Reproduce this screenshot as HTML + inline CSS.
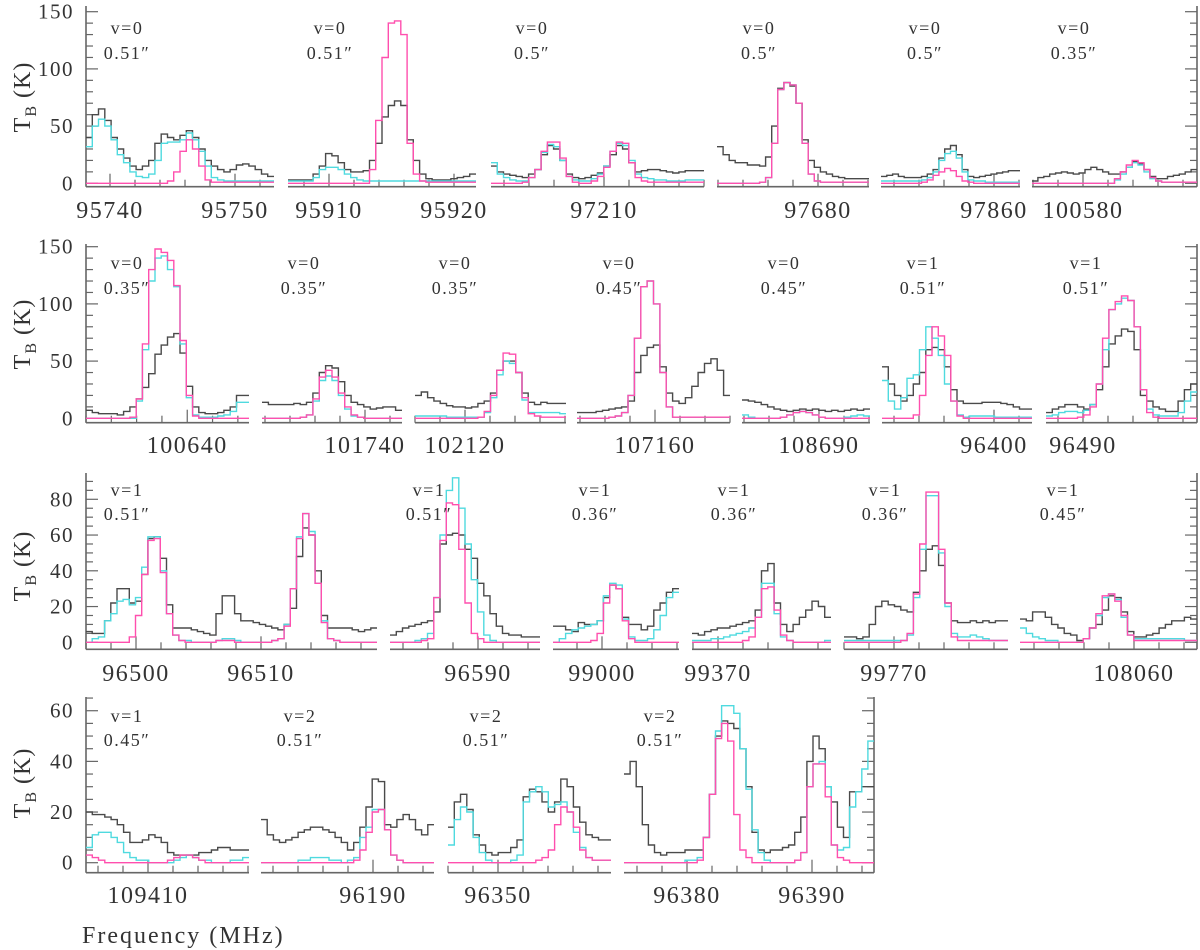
<!DOCTYPE html>
<html><head><meta charset="utf-8"><title>Spectra panels</title>
<style>
html,body{margin:0;padding:0;background:#fff;}
svg{display:block;}
text{font-family:"Liberation Serif","DejaVu Serif",serif;fill:#333;}
</style></head>
<body>
<svg id="chart" width="1200" height="950" viewBox="0 0 1200 950" xmlns="http://www.w3.org/2000/svg"></svg>
<script>
// ---- data: brightness temperatures (K) per channel ----
const r1p1Black=[40,60,65,55,40,30,22,15,12,15,20,35,43,40,38,42,46,40,30,20,15,12,10,12,16,17,15,12,8,6];
const r1p1Cyan=[32,50,56,50,38,25,18,10,6,5,8,20,35,36,36,38,44,38,28,15,5,3,2,2,2,2,2,2,2,2];
const r1p1Mag=[0,0,0,0,0,0,0,0,0,0,0,0,0,2,10,28,38,30,15,3,1,1,1,1,1,1,1,1,1,1];
const r1p2Black=[3,3,3,3,8,15,26,24,18,12,10,10,11,20,35,58,68,72,68,38,20,8,4,3,3,3,4,5,6,8];
const r1p2Cyan=[2,2,2,2,5,12,14,14,12,8,5,3,2,2,2,2,2,2,2,2,2,2,2,2,2,2,2,2,2,2];
const r1p2Mag=[0,0,0,0,0,0,0,0,0,0,0,0,0,12,55,110,140,142,130,35,8,2,1,1,1,1,1,1,1,1];
const r1p3Black=[15,10,8,7,6,5,8,12,25,33,30,20,8,5,4,5,7,9,15,25,33,30,18,10,11,12,12,11,10,9,10,11,11,11];
const r1p3Cyan=[18,8,5,3,2,2,5,12,27,34,32,20,6,3,2,2,4,8,15,28,35,33,20,8,5,4,3,3,2,2,2,3,3,3];
const r1p3Mag=[0,0,0,0,0,1,5,12,28,36,36,22,6,1,0,0,2,6,14,28,36,35,18,5,2,1,1,1,1,1,1,1,1,1];
const r1p4Black=[32,25,20,18,18,16,16,15,23,50,83,88,85,70,38,20,14,10,8,6,5,4,4,4,4];
const r1p4Cyan=[0,0,0,0,0,0,0,1,5,35,82,88,86,70,35,8,2,1,1,1,1,1,1,1,1];
const r1p4Mag=[0,0,0,0,0,0,0,1,5,35,82,88,86,70,35,8,2,1,1,1,1,1,1,1,1];
const r1p5Black=[6,7,8,6,5,5,5,6,8,12,22,30,33,25,12,6,5,6,7,8,9,10,11,11];
const r1p5Cyan=[2,2,2,2,2,2,2,3,5,10,20,26,28,22,10,3,2,2,1,1,1,1,1,1];
const r1p5Mag=[0,0,0,0,0,0,0,1,3,7,10,13,11,6,2,1,0,0,0,0,0,0,0,0];
const r1p6Black=[2,5,6,8,9,10,9,8,9,12,14,12,10,8,8,10,14,19,17,12,6,4,4,6,7,8,10,12];
const r1p6Cyan=[0,0,0,0,0,0,0,0,0,0,0,0,0,0,3,8,14,18,16,10,4,2,1,1,1,1,1,1];
const r1p6Mag=[0,0,0,0,0,0,0,0,0,0,0,0,0,0,4,10,16,20,18,12,5,2,1,1,1,1,1,1];

const r2p1Black=[7,5,4,4,4,3,6,10,17,27,39,56,64,71,74,57,28,10,5,4,4,5,7,10,20,20];
const r2p1Cyan=[0,0,0,0,0,0,0,0,15,60,120,140,142,130,115,65,18,3,1,1,1,2,3,6,14,14];
const r2p1Mag=[0,0,0,0,0,0,0,1,17,65,130,148,145,138,116,68,20,2,0,0,0,0,0,0,0,0];
const r2p2Black=[14,12,12,12,12,13,12,14,22,40,46,44,32,20,14,12,10,8,9,10,10,7];
const r2p2Cyan=[0,0,0,0,0,0,1,3,15,33,37,33,20,8,2,1,0,0,0,0,0,0];
const r2p2Mag=[0,0,0,0,0,0,1,3,17,36,42,36,22,10,3,1,0,0,0,0,0,0];
const r2p3Black=[20,23,18,15,13,11,10,10,9,10,13,15,22,42,50,50,40,22,14,12,14,13,13,13];
const r2p3Cyan=[2,2,2,2,2,1,1,1,1,1,1,5,18,38,50,48,40,16,5,5,5,5,5,4];
const r2p3Mag=[0,0,0,0,0,0,0,0,0,0,1,6,20,42,57,56,40,18,4,2,1,1,1,1];
const r2p4Black=[5,5,5,6,7,8,9,10,15,40,55,62,64,45,22,15,13,18,28,40,48,52,42,20];
const r2p4Cyan=[0,0,0,0,0,1,2,5,20,70,115,120,100,40,10,1,1,1,1,1,1,1,1,1];
const r2p4Mag=[0,0,0,0,0,1,2,5,20,70,115,120,100,40,10,1,1,1,1,1,1,1,1,1];
const r2p5Black=[16,15,14,12,10,8,7,6,7,8,7,8,7,6,7,6,7,8,7,8];
const r2p5Cyan=[3,1,0,0,0,0,1,3,5,6,5,3,1,0,0,0,1,2,3,2];
const r2p5Mag=[0,0,0,0,0,0,1,3,5,6,5,3,1,0,0,0,0,0,0,0];
const r2p6Black=[45,30,20,15,20,30,40,60,62,60,45,25,15,13,13,13,14,14,14,13,12,10,8,8];
const r2p6Cyan=[33,15,8,18,35,38,60,80,70,55,30,15,3,1,2,2,2,2,1,1,1,1,1,1];
const r2p6Mag=[0,0,0,0,0,3,20,55,80,72,55,15,2,0,0,0,0,0,0,0,0,0,0,0];
const r2p7Black=[5,8,10,12,12,10,8,12,25,45,65,72,78,76,60,20,15,10,8,6,6,15,25,30];
const r2p7Cyan=[2,3,5,6,6,5,7,12,30,60,95,100,105,103,80,25,8,3,2,2,2,5,15,23];
const r2p7Mag=[0,0,0,0,0,1,3,10,30,70,95,102,107,103,80,25,5,1,0,0,0,0,0,0];

const r3p1Black=[6,5,5,12,22,30,30,22,23,38,58,59,47,21,8,8,8,7,6,5,4,16,26,26,16,12,12,11,10,9,8,7,10,19,48,64,60,40,15,8,8,8,8,7,6,7,8];
const r3p1Cyan=[0,2,3,12,16,23,24,21,25,42,59,59,40,16,4,1,1,0,0,0,0,1,2,2,1,0,0,0,0,0,1,2,10,30,59,72,62,33,12,2,1,0,0,0,0,0,0];
const r3p1Mag=[0,0,0,0,0,0,0,3,15,38,57,58,39,16,4,1,0,0,0,0,0,1,1,1,0,0,0,0,0,0,1,2,9,30,58,72,60,33,11,2,1,0,0,0,0,0,0];
const r3p2Black=[4,6,8,9,10,11,12,17,55,60,61,60,52,47,33,26,16,9,5,4,4,3,3,3];
const r3p2Cyan=[0,0,0,0,1,2,5,25,60,85,92,75,55,35,17,4,1,0,0,0,0,0,0,0];
const r3p2Mag=[0,0,0,0,0,1,2,25,57,78,77,52,22,5,2,0,0,0,0,0,0,0,0,0];
const r3p3Black=[9,9,7,6,11,10,10,12,25,32,30,14,10,10,7,9,18,22,28,30];
const r3p3Cyan=[0,2,5,7,8,9,10,12,26,33,32,13,3,1,1,2,7,15,25,28];
const r3p3Mag=[0,0,0,0,0,0,1,5,22,32,30,12,2,0,0,0,0,0,0,0];
const r3p4Black=[5,4,6,7,8,8,9,10,11,12,18,40,44,22,10,6,10,14,18,23,20,14];
const r3p4Cyan=[1,1,1,2,2,3,4,5,6,8,14,33,33,16,3,1,0,0,0,0,0,1];
const r3p4Mag=[0,0,0,0,0,0,0,0,1,3,14,30,31,18,4,1,0,0,0,0,0,0];
const r3p5Black=[3,3,2,3,10,20,23,21,20,18,17,28,40,52,54,43,22,12,11,11,12,11,12,11,12,12];
const r3p5Cyan=[1,1,1,1,1,1,1,1,1,1,4,25,52,82,82,50,20,5,3,3,4,3,2,1,1,1];
const r3p5Mag=[0,0,0,0,0,0,0,0,0,1,5,27,55,84,84,52,22,3,1,1,1,1,1,1,1,1];
const r3p6Black=[13,12,17,17,14,10,8,5,4,1,2,8,10,18,26,25,17,6,3,3,4,5,8,10,12,12,14,13];
const r3p6Cyan=[8,5,3,2,1,1,0,0,0,0,2,8,15,25,27,24,14,4,2,2,2,2,2,2,2,2,1,1];
const r3p6Mag=[0,0,0,0,0,0,0,0,0,0,2,8,16,26,27,23,15,4,1,1,1,1,1,1,1,1,1,1];

const r4p1Black=[20,19,19,18,17,15,12,8,8,9,11,10,8,4,3,3,3,3,4,4,5,6,6,5,5,5];
const r4p1Cyan=[6,11,12,12,10,8,4,2,1,1,0,0,0,0,1,2,3,2,1,1,0,0,0,1,1,2];
const r4p1Mag=[3,2,1,0,0,0,0,0,0,0,0,0,0,1,2,3,3,2,1,0,0,0,0,0,0,0];
const r4p2Black=[17,11,9,8,9,10,12,13,14,14,13,12,10,8,5,8,14,22,33,32,15,14,17,19,17,13,11,15];
const r4p2Cyan=[0,0,0,0,0,0,1,1,2,2,2,1,1,0,1,2,10,14,21,21,13,3,1,0,0,0,0,0];
const r4p2Mag=[0,0,0,0,0,0,0,0,0,0,0,0,0,0,0,1,5,12,20,21,13,3,1,0,0,0,0,0];
const r4p3Black=[14,24,27,21,11,7,4,3,4,4,6,9,26,29,28,24,20,24,33,30,22,16,11,10,9,9];
const r4p3Cyan=[7,17,22,20,10,4,1,0,0,0,1,3,24,28,30,28,22,23,24,20,12,6,2,1,1,1];
const r4p3Mag=[0,0,0,0,0,0,0,0,0,0,0,0,0,0,1,2,5,15,22,20,14,5,2,1,1,1];
const r4p4Black=[35,40,30,15,7,4,3,4,4,4,5,5,5,10,27,50,56,55,53,45,30,12,5,4,5,5,6,7,12,18,40,50,45,30,24,14,10,28,28,30,30];
const r4p4Cyan=[0,0,0,0,0,0,0,0,0,0,1,1,2,10,27,52,62,62,59,45,29,13,4,1,0,0,0,0,1,4,30,39,40,30,7,5,6,22,28,37,48];
const r4p4Mag=[0,0,0,0,0,0,0,0,0,0,0,0,1,10,27,49,55,48,19,5,2,0,0,0,0,0,0,0,1,4,30,39,39,26,7,2,1,0,0,0,0];

// tick labels (MHz) and frequency ranges of each panel
const r1Labels=[[95740,95750],[95910,95920],[97210],[97680],[97860],[100580]];
const r2Labels=[[100640],[101740],[102120],[107160],[108690],[96400],[96490]];
const r3Labels=[[96500,96510],[96590],[99000],[99370],[99770],[108060]];
const r4Labels=[[109410],[96190],[96350],[96380,96390]];
const r1Freq=[[95738.08,95753.12],[95906.72,95921.76],[97200.96,97218.0],[97671.92,97684.08],[97850.96,97862.08],[100575.92,100589.12]];
const r2Freq=[[100632.0,100644.88],[101731.76,101742.96],[102116.0,102128.08],[107153.76,107166.0],[108683.84,108694.08],[96391.04,96403.04],[96487.04,96499.12]];
const r3Freq=[[96496.0,96519.28],[96582.96,96594.96],[98996.08,99006.16],[99367.92,99379.04],[99766.0,99779.12],[108050.88,108065.04]];
const r4Freq=[[109405.04,109418.08],[96181.04,96194.88],[96346.0,96359.04],[96374.96,96394.96]];
const r1Vib=["v=0","v=0","v=0","v=0","v=0","v=0"];
const r1Beam=["0.51″","0.51″","0.5″","0.5″","0.5″","0.35″"];
const r2Vib=["v=0","v=0","v=0","v=0","v=0","v=1","v=1"];
const r2Beam=["0.35″","0.35″","0.35″","0.45″","0.45″","0.51″","0.51″"];
const r3Vib=["v=1","v=1","v=1","v=1","v=1","v=1"];
const r3Beam=["0.51″","0.51″","0.36″","0.36″","0.36″","0.45″"];
const r4Vib=["v=1","v=2","v=2","v=2"];
const r4Beam=["0.45″","0.51″","0.51″","0.51″"];
const r1YTicks=[0,50,100,150];
const r2YTicks=[0,50,100,150];
const r3YTicks=[0,20,40,60,80];
const r4YTicks=[0,20,40,60];

// ---- layout ----
const rows=[
 {zero:183.3,ppk:1.144,bottom:186.7,top:6,minor:10,yt:r1YTicks,lblY:210,vY:34,bY:59,titleY:97,
  x:[[86,274],[288,476],[491,704],[717,869],[881,1020],[1032,1197]],ann:[127,330,532,759,925,1074],
  labels:r1Labels,freq:r1Freq,vib:r1Vib,beam:r1Beam,
  series:[[r1p1Black,r1p1Cyan,r1p1Mag],[r1p2Black,r1p2Cyan,r1p2Mag],[r1p3Black,r1p3Cyan,r1p3Mag],[r1p4Black,r1p4Cyan,r1p4Mag],[r1p5Black,r1p5Cyan,r1p5Mag],[r1p6Black,r1p6Cyan,r1p6Mag]]},
 {zero:418.3,ppk:1.144,bottom:422.7,top:244,minor:10,yt:r2YTicks,lblY:445,vY:269,bY:294,titleY:334,
  x:[[86,249],[262,402],[415,566],[577,730],[742,870],[882,1032],[1046,1197]],ann:[127,304,455,619,784,923,1086],
  labels:r2Labels,freq:r2Freq,vib:r2Vib,beam:r2Beam,
  series:[[r2p1Black,r2p1Cyan,r2p1Mag],[r2p2Black,r2p2Cyan,r2p2Mag],[r2p3Black,r2p3Cyan,r2p3Mag],[r2p4Black,r2p4Cyan,r2p4Mag],[r2p5Black,r2p5Cyan,r2p5Mag],[r2p6Black,r2p6Cyan,r2p6Mag],[r2p7Black,r2p7Cyan,r2p7Mag]]},
 {zero:642.3,ppk:1.7875,bottom:649.3,top:473,minor:5,yt:r3YTicks,lblY:673,vY:496,bY:520,titleY:566,
  x:[[86,377],[390,540],[553,679],[692,831],[844,1008],[1020,1197]],ann:[127,429,595,734,885,1063],
  labels:r3Labels,freq:r3Freq,vib:r3Vib,beam:r3Beam,
  series:[[r3p1Black,r3p1Cyan,r3p1Mag],[r3p2Black,r3p2Cyan,r3p2Mag],[r3p3Black,r3p3Cyan,r3p3Mag],[r3p4Black,r3p4Cyan,r3p4Mag],[r3p5Black,r3p5Cyan,r3p5Mag],[r3p6Black,r3p6Cyan,r3p6Mag]]},
 {zero:862.7,ppk:2.533,bottom:872.7,top:697,minor:5,yt:r4YTicks,lblY:895,vY:722,bY:746,titleY:783,
  x:[[86,249],[261,434],[448,611],[624,874]],ann:[127,300,486,660],
  labels:r4Labels,freq:r4Freq,vib:r4Vib,beam:r4Beam,
  series:[[r4p1Black,r4p1Cyan,r4p1Mag],[r4p2Black,r4p2Cyan,r4p2Mag],[r4p3Black,r4p3Cyan,r4p3Mag],[r4p4Black,r4p4Cyan,r4p4Mag]]}
];
const colors=["#4a4a4a","#4fdadf","#ff4fae"];
const seriesNames=["observed-spectrum","model-spectrum-cyan","model-spectrum-magenta"];
const NS="http://www.w3.org/2000/svg";
const svg=document.getElementById('chart');
function mk(tag,attrs,parent){const e=document.createElementNS(NS,tag);for(const k in attrs)e.setAttribute(k,attrs[k]);(parent||svg).appendChild(e);return e;}
const AX="#666";

rows.forEach((row,ri)=>{
  const yS=v=>row.zero-v*row.ppk;
  const vmin=(row.zero-row.bottom)/row.ppk, vmax=(row.zero-row.top)/row.ppk;
  const last=row.x.length-1;
  const tt=mk('text',{x:0,y:0,'font-size':24,'text-anchor':'middle','letter-spacing':1,transform:`translate(30,${row.titleY}) rotate(-90)`});
  
  
  tt.innerHTML='T<tspan font-size="16" dy="6">B</tspan><tspan dy="-6"> (K)</tspan>';
  row.x.forEach((xr,pi)=>{
    const [x0,x1]=xr,[f0,f1]=row.freq[pi];
    const xS=f=>x0+(f-f0)*(x1-x0)/(f1-f0);
    const g=mk('g',{});
    
    
    const ax=mk('line',{x1:x0,y1:row.bottom,x2:x1,y2:row.bottom,stroke:AX,'stroke-width':1.6},g);
    
    
    for(let f=Math.ceil(f0/2)*2; f<=f1; f+=2){
      const major=(Math.round(f)%10===0);
      const t=mk('line',{x1:xS(f),y1:row.bottom,x2:xS(f),y2:row.bottom-(major?13:7),stroke:AX,'stroke-width':1.2},g);
      
      
    }
    row.labels[pi].forEach(lf=>{
      const t=mk('text',{x:xS(lf),y:row.lblY+8,'font-size':24,'text-anchor':'middle','letter-spacing':1.5},g);
      
      
      t.textContent=lf;
    });
    const sides=[];
    if(pi===0) sides.push([x0,1]);
    if(pi===last) sides.push([x1,-1]);
    sides.forEach(([xa,dir])=>{
      const yl=mk('line',{x1:xa,y1:row.bottom,x2:xa,y2:row.top,stroke:AX,'stroke-width':1.6},g);
      
      
      for(let v=0; v<=vmax; v+=row.minor){
        const major=row.yt.indexOf(v)>=0;
        const t=mk('line',{x1:xa,y1:yS(v),x2:xa+dir*(major?12:7),y2:yS(v),stroke:AX,'stroke-width':1.2},g);
        
        
      }
      if(dir===1){
        row.yt.forEach(v=>{
          const t=mk('text',{x:xa-12,y:yS(v)+7,'font-size':21,'text-anchor':'end','letter-spacing':1.5},g);
          
          
          t.textContent=v;
        });
      }
    });
    row.series[pi].forEach((arr,si)=>{
      const n=arr.length, df=(f1-f0)/n;
      const cl=v=>yS(Math.max(vmin,Math.min(vmax,v)));
      let d=`M${xS(f0).toFixed(1)},${cl(arr[0]).toFixed(1)}`;
      for(let i=0;i<n;i++){
        if(i>0) d+=`V${cl(arr[i]).toFixed(1)}`;
        d+=`H${xS(f0+(i+1)*df).toFixed(1)}`;
      }
      const p=mk('path',{d:d,fill:'none',stroke:colors[si],'stroke-width':1.4},g);
      
      
    });
    const a1=mk('text',{x:row.ann[pi],y:row.vY,'font-size':18,'text-anchor':'middle','letter-spacing':1.5},g);
    
    
    a1.textContent=row.vib[pi];
    const a2=mk('text',{x:row.ann[pi],y:row.bY,'font-size':18,'text-anchor':'middle','letter-spacing':1.5},g);
    
    
    a2.textContent=row.beam[pi];
  });
});
const xt=mk('text',{x:82,y:943,'font-size':24,'letter-spacing':2});


xt.textContent='Frequency (MHz)';
</script>
</body></html>
